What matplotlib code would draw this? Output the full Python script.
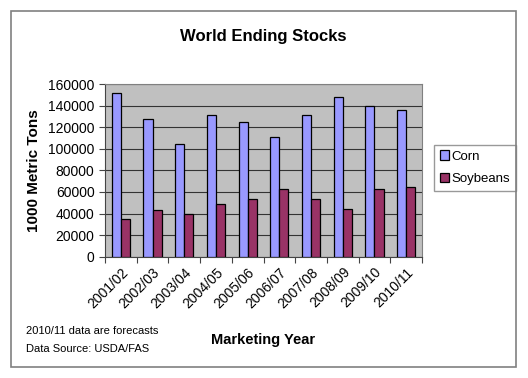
import numpy as np
import matplotlib.pyplot as plt
from matplotlib.patches import Rectangle

plt.rcParams['font.family'] = ['Liberation Sans', 'DejaVu Sans']

# data (1000 metric tons)
years = ['2001/02', '2002/03', '2003/04', '2004/05', '2005/06',
         '2006/07', '2007/08', '2008/09', '2009/10', '2010/11']
corn = [151400, 127300, 104400, 131300, 124800,
        110600, 131300, 148000, 139300, 135900]
soybeans = [35200, 43300, 39200, 48500, 53100,
            63000, 53100, 44500, 63000, 64300]

W, H = 528, 378
fig = plt.figure(figsize=(W / 100, H / 100), dpi=100)

# outer chart border
fig.patches.append(Rectangle((10.5 / W, 1 - 366.5 / H), 505.5 / W, 355.5 / H,
                             transform=fig.transFigure, fill=False,
                             edgecolor='#808080', linewidth=1.2))

left, right, top, bottom = 105, 422, 84, 256.7
ax = fig.add_axes([left / W, 1 - bottom / H, (right - left) / W, (bottom - top) / H])
ax.set_facecolor('#C0C0C0')

x = np.arange(len(years))
bw = 1 / 3.5
ax.bar(x - bw / 2, corn, bw, color='#9999FF', edgecolor='black', linewidth=0.9,
       label='Corn', zorder=3)
ax.bar(x + bw / 2, soybeans, bw, color='#993366', edgecolor='black', linewidth=0.9,
       label='Soybeans', zorder=3)

ax.set_xlim(-0.5, len(years) - 0.5)
ax.set_ylim(0, 160000)
ax.set_yticks(np.arange(0, 160001, 20000))
ax.yaxis.grid(True, color='#333333', linewidth=0.8, zorder=1)

# category ticks between groups, labels centred on groups
ax.set_xticks(np.arange(-0.5, len(years)), minor=False)
ax.set_xticklabels([])
ax.set_xticks(x, minor=True)
ax.set_xticklabels(years, minor=True, rotation=45, ha='right',
                   rotation_mode='anchor', fontsize=10)
ax.tick_params(axis='x', which='minor', length=0, pad=6)
ax.tick_params(axis='x', which='major', length=4, direction='out', color='#444444')
ax.tick_params(axis='y', length=4, direction='out', labelsize=10, color='#444444')

for side in ['top', 'right']:
    ax.spines[side].set_color('#808080')
ax.spines['left'].set_color('#444444')
ax.spines['bottom'].set_color('#444444')

ax.set_ylabel('1000 Metric Tons', fontsize=11, fontweight='bold', labelpad=5)

fig.text(263 / W, 1 - 36 / H, 'World Ending Stocks', ha='center', va='center',
         fontsize=12, fontweight='bold')
fig.text(263 / W, 1 - 340 / H, 'Marketing Year', ha='center', va='center',
         fontsize=10.5, fontweight='bold')
fig.text(26 / W, 1 - 331 / H, '2010/11 data are forecasts', ha='left', va='center',
         fontsize=8)
fig.text(26 / W, 1 - 349 / H, 'Data Source: USDA/FAS', ha='left', va='center',
         fontsize=8)

leg = ax.legend(loc='upper left', bbox_to_anchor=(434 / W, 1 - 144.5 / H),
                bbox_transform=fig.transFigure, fontsize=9.5, frameon=True,
                fancybox=False, handlelength=0.7, handleheight=0.7,
                handletextpad=0.2, borderpad=0.45, labelspacing=0.8,
                borderaxespad=0)
leg.get_frame().set_edgecolor('#808080')
leg.get_frame().set_linewidth(1)

fig.savefig('out.png', dpi=100)
